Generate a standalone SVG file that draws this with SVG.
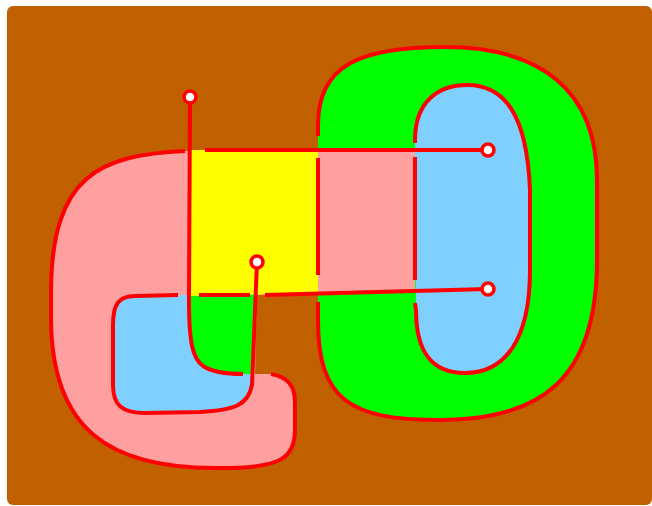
<svg xmlns="http://www.w3.org/2000/svg" width="652" height="506" viewBox="0 0 652 506">
<style>
.r{fill:none;stroke:#FF0000;stroke-width:4;stroke-linecap:butt;stroke-linejoin:round}
.dot{fill:#FFFFFF;stroke:#FF0000;stroke-width:3.5}
</style>
<rect x="7" y="6" width="645" height="499" rx="6" fill="#C06000"/>
<g id="regions">
<path id="ring" d="M318,300 L318,125 C318,65 360,47 445,47 C540,47 597,90 597,180 L597,260 C597,380 540,420 440,420 C350,420 318,400 318,320 Z" fill="#00FF00"/>
<path id="ringHole" d="M415,150 L415,140 C415,100 440,85 467,85 C505,85 527,115 530,190 L530,270 C530,340 505,373 465,373 C430,373 416,350 416,310 Z" fill="#80D0FF"/>
<path id="band" d="M415,150 L185,151 C100,155 52,175 51,290 L51,320 C52,430 110,468 215,468 L230,468 C280,467 295,458 295,430 L295,402 C295,386 288,377 271,374 L255,374 L257,295 L415,291 Z" fill="#FFA0A0"/>
<path id="hole" d="M189,295 L135,296 C118,296 113,305 113,325 L113,385 C113,405 122,413 145,413 L200,412 C235,410 248,405 252,385 L256,295 Z" fill="#80D0FF"/>
<path id="greenPatch" d="M189,294 L189,300 C189,340 192,358 203,366 C212,372 228,374 243,374 L254,374 L256,294 Z" fill="#00FF00"/>
<path id="yellow" d="M189,150 L318,150 L318,293 L189,296 Z" fill="#FFFF00"/>
</g>
<g id="connectors">
<path class="r" d="M190,97 L189,300 C189,340 192,358 203,366 C212,372 228,374 243,374"/>
<path class="r" d="M271,374 C288,377 295,386 295,402 L295,430 C295,458 280,467 230,468 L215,468 C110,468 52,430 51,320 L51,290 C52,175 100,155 185,151"/>
<path class="r" d="M205,150 L488,150"/>
<path class="r" d="M488,289 L265,295"/>
<path class="r" d="M250,295 L199,295"/>
<path class="r" d="M178,295 L135,296 C118,296 113,305 113,325 L113,385 C113,405 122,413 145,413 L200,412 C235,410 248,405 252,385 L257,262"/>
<path class="r" d="M318,136 L318,125 C318,65 360,47 445,47 C540,47 597,90 597,180 L597,260 C597,380 540,420 440,420 C350,420 318,400 318,320 L318,302"/>
<path class="r" d="M318,158 L318,275"/>
<path class="r" d="M415,143 L415,140 C415,100 440,85 467,85 C505,85 527,115 530,190 L530,270 C530,340 505,373 465,373 C430,373 416,350 416,310 L415,303"/>
<path class="r" d="M415,157 L415,280"/>
</g>
<g id="dot1"><circle class="dot" cx="190" cy="97" r="6"/></g>
<g id="dot2"><circle class="dot" cx="257" cy="262" r="6"/></g>
<g id="dot3"><circle class="dot" cx="488" cy="150" r="6"/></g>
<g id="dot4"><circle class="dot" cx="488" cy="289" r="6"/></g>
</svg>
